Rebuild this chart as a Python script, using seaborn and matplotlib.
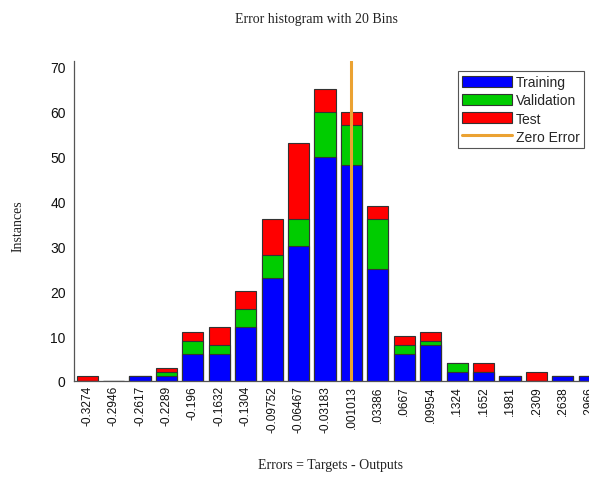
import numpy as np
import pandas as pd
import matplotlib
matplotlib.use("Agg")
import matplotlib.pyplot as plt
from matplotlib.patches import Patch
from matplotlib.lines import Line2D
import seaborn as sns

# Bin centre labels (errors) and instance counts per data split
bin_labels = ["-0.3274", "-0.2946", "-0.2617", "-0.2289", "-0.196", "-0.1632",
              "-0.1304", "-0.09752", "-0.06467", "-0.03183", ".001013", ".03386",
              ".0667", ".09954", ".1324", ".1652", ".1981", ".2309", ".2638", ".2966"]
training = [0, 0, 1, 1, 6, 6, 12, 23, 30, 50, 48, 25, 6, 8, 2, 2, 1, 0, 1, 1]
validation = [0, 0, 0, 1, 3, 2, 4, 5, 6, 10, 9, 11, 2, 1, 2, 0, 0, 0, 0, 0]
test = [1, 0, 0, 1, 2, 4, 4, 8, 17, 5, 3, 3, 2, 2, 0, 2, 0, 2, 0, 0]

df = pd.DataFrame({"bin": bin_labels, "Training": training,
                   "Validation": validation, "Test": test})
df["tv"] = df["Training"] + df["Validation"]
df["all"] = df["tv"] + df["Test"]

c_train = "#0000FF"
c_val = "#00CC00"
c_test = "#FF0000"
c_zero = "#EBA232"

sns.set_style("white")
plt.rcParams["font.family"] = ["Liberation Sans", "DejaVu Sans"]

fig = plt.figure(figsize=(5.89, 4.85), dpi=100)
ax = fig.add_axes([0.1256, 0.2124, 0.8973, 0.6600])

edge = dict(edgecolor="#333333", linewidth=0.8, width=0.8)
# stacked look: draw cumulative totals back to front
sns.barplot(data=df, x="bin", y="all", order=bin_labels, color=c_test,
            saturation=1, ax=ax, **edge)
sns.barplot(data=df, x="bin", y="tv", order=bin_labels, color=c_val,
            saturation=1, ax=ax, **edge)
sns.barplot(data=df, x="bin", y="Training", order=bin_labels, color=c_train,
            saturation=1, ax=ax, **edge)

# zero-error line, placed between bin centres by interpolation
centres = np.array([float(s) for s in bin_labels])
zero_pos = np.interp(0.0, centres, np.arange(len(centres)))
ymax = 71.3
ax.plot([zero_pos, zero_pos], [0, ymax], color=c_zero, linewidth=2.2, zorder=5)

ax.set_xlim(-0.5, len(bin_labels) - 0.5)
ax.set_ylim(0, ymax)
ax.set_yticks(range(0, 71, 10))
ax.set_xticks(range(len(bin_labels)))
ax.set_xticklabels(bin_labels, rotation=90)
ax.tick_params(axis="both", direction="in", length=4, width=0.8,
               color="#333333", labelcolor="#111111")
ax.tick_params(axis="x", labelsize=8.6, pad=3)
ax.tick_params(axis="y", labelsize=10, pad=6)
ax.set_xlabel("")
ax.set_ylabel("")

for side in ["left", "bottom", "right"]:
    ax.spines[side].set_color("#555555")
    ax.spines[side].set_linewidth(0.9)
ax.spines["top"].set_visible(False)

handles = [Patch(facecolor=c_train, edgecolor="#333333", linewidth=0.8),
           Patch(facecolor=c_val, edgecolor="#333333", linewidth=0.8),
           Patch(facecolor=c_test, edgecolor="#333333", linewidth=0.8),
           Line2D([0], [0], color=c_zero, linewidth=2.2)]
leg = fig.legend(handles, ["Training", "Validation", "Test", "Zero Error"],
                 loc="upper right", bbox_to_anchor=(584 / 589, 1 - 72 / 485),
                 fontsize=10, frameon=True, fancybox=False, framealpha=1,
                 edgecolor="#555555", handlelength=3.6, handleheight=0.85,
                 handletextpad=0.25, labelspacing=0.3, borderpad=0.3,
                 borderaxespad=0)
leg.get_frame().set_linewidth(0.8)

serif = ["Liberation Serif", "DejaVu Serif"]
fig.text(316 / 589, 1 - 20 / 485, "Error histogram with 20 Bins",
         ha="center", va="center", fontsize=10, family=serif, color="#222222")
fig.text(330 / 589, 1 - 466 / 485, "Errors = Targets - Outputs",
         ha="center", va="center", fontsize=10, family=serif, color="#222222")
fig.text(18 / 589, 1 - 226 / 485, "Instances", rotation=90,
         ha="center", va="center", fontsize=10, family=serif, color="#222222")

fig.savefig("out.png", dpi=100)
